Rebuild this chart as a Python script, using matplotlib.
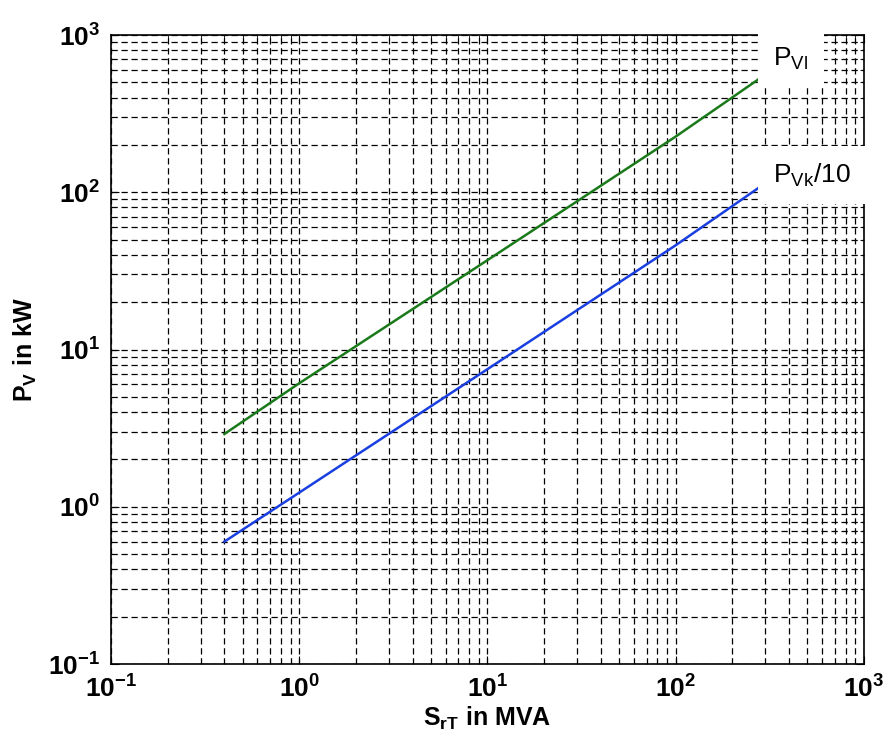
import numpy as np
import matplotlib
matplotlib.use("Agg")
import matplotlib.pyplot as plt
from matplotlib.ticker import LogLocator

plt.rcParams['font.family'] = ['Liberation Sans', 'DejaVu Sans']
plt.rcParams['mathtext.fontset'] = 'custom'
plt.rcParams['mathtext.rm'] = 'Liberation Sans'
plt.rcParams['mathtext.default'] = 'regular'

# values
s_rt = [0.4, 1, 10, 100, 280]
p_vl = [2.9, 6.1, 37, 226, 530]
p_vk10 = [0.6, 1.23, 7.5, 46, 108]

decades = [-1, 0, 1, 2, 3]
tick_labels = [r'$10^{%d}$' % d for d in decades]

fig = plt.figure(figsize=(8.91, 7.40), dpi=100)
ax = fig.add_axes([0.1246, 0.1027, 0.845, 0.85])

ax.loglog(s_rt, p_vl, color='#1a7a1a', lw=1.8)
ax.loglog(s_rt, p_vk10, color='#1a3fe0', lw=1.8)

ax.set_xlim(0.1, 1000)
ax.set_ylim(0.1, 1000)

ax.set_xticks([10.0**d for d in decades])
ax.set_yticks([10.0**d for d in decades])
ax.set_xticklabels(tick_labels, fontweight='bold')
ax.set_yticklabels(tick_labels, fontweight='bold')
ax.xaxis.set_minor_locator(LogLocator(base=10, subs=np.arange(2, 10)))
ax.yaxis.set_minor_locator(LogLocator(base=10, subs=np.arange(2, 10)))
ax.tick_params(which='both', direction='in', top=True, right=True)
ax.tick_params(which='major', length=6, labelsize=19, pad=8)
ax.tick_params(which='minor', length=3, labelbottom=False, labelleft=False)

ax.grid(True, which='both', color='black', linestyle=(0, (5, 3)), lw=0.9)

for sp in ax.spines.values():
    sp.set_linewidth(1.2)

ax.set_xlabel(r'S$_{rT}$ in MVA', fontsize=18, fontweight='bold', labelpad=2)
ax.set_ylabel(r'P$_{V}$ in kW', fontsize=18, fontweight='bold', labelpad=6)

ax.text(330, 700, r'P$_{Vl}$', fontsize=19, va='center', ha='left',
        bbox=dict(facecolor='white', edgecolor='none', pad=11), zorder=5)
ax.text(330, 128, r'P$_{Vk}$/10', fontsize=19, va='center', ha='left',
        bbox=dict(facecolor='white', edgecolor='none', pad=11), zorder=5)

fig.savefig('out.png', dpi=100)
